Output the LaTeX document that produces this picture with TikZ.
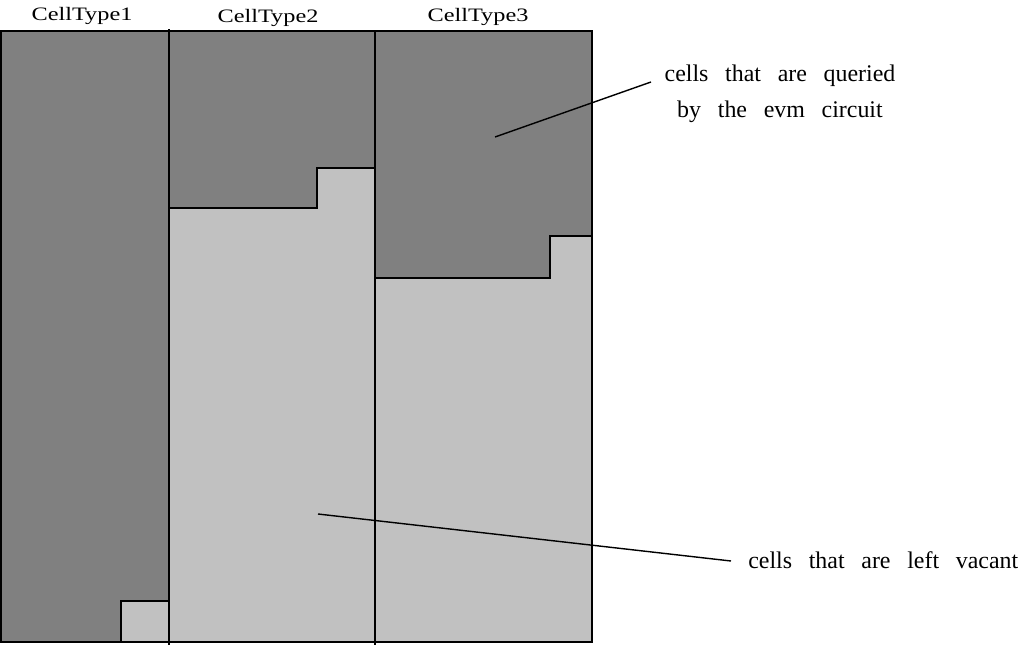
\documentclass[tikz,border=0pt]{standalone}
\usepackage{fontspec}
\setmainfont{Liberation Serif}
\newfontfamily\headfont[FakeStretch=1.28]{Liberation Serif}
\usetikzlibrary{calc}
\definecolor{queried}{RGB}{128,128,128}
\definecolor{vacant}{RGB}{193,193,193}
\tikzset{
   border/.style={draw=black, line width=1.4pt},
   pointer/.style={draw=black, line width=1pt},
   label text/.style={font=\fontsize{17}{26}\selectfont, inner sep=0pt,
      execute at begin node={\spaceskip=0.7em}},
   head text/.style={font=\headfont\fontsize{13.5}{15}\selectfont, inner sep=0pt, anchor=base},
    }
\begin{document}
\begin{tikzpicture}
        [x=0.025cm,y=-0.025cm]
        \useasboundingbox (0,0) rectangle (1019,645);
        % columns
        \fill[queried] (1,31) rectangle (592,642);
        \fill[vacant] (121,601) rectangle (169,642); % type 1
        \fill[vacant] (169,208) -- (317,208) -- (317,168) -- (375,168)
            -- (375,642) -- (169,642) -- cycle; % type 2
        \fill[vacant] (375,278) -- (550,278) -- (550,236) -- (592,236)
            -- (592,642) -- (375,642) -- cycle; % type 3
        % outlines
        \draw[border] (121,642) -- (121,601) -- (169,601);
        \draw[border] (169,208) -- (317,208) -- (317,168) -- (375,168);
        \draw[border] (375,278) -- (550,278) -- (550,236) -- (592,236);
        \draw[border] (169,29) -- (169,645);
        \draw[border] (375,31) -- (375,645);
        \draw[border] (1,31) rectangle (592,642);
        % headers
        \node[head text] (t1) at (82,20) {CellType1};
        \node[head text] (t2) at (268,22) {CellType2};
        \node[head text] (t3) at (478,21) {CellType3};
        % labels
        \node[label text, align=center] (q) at (780,94)
            {cells that are queried\\by the evm circuit};
        \node[label text, anchor=base west] (v) at (748,568) {cells that are left vacant};
        \coordinate (qin) at (495,137);
        \coordinate (qout) at (651,82);
        \coordinate (vin) at (318,514);
        \coordinate (vout) at (731,561);
        \draw[pointer] (qin) -- (qout);
        \draw[pointer] (vin) -- (vout);
        \end{tikzpicture}
\end{document}
